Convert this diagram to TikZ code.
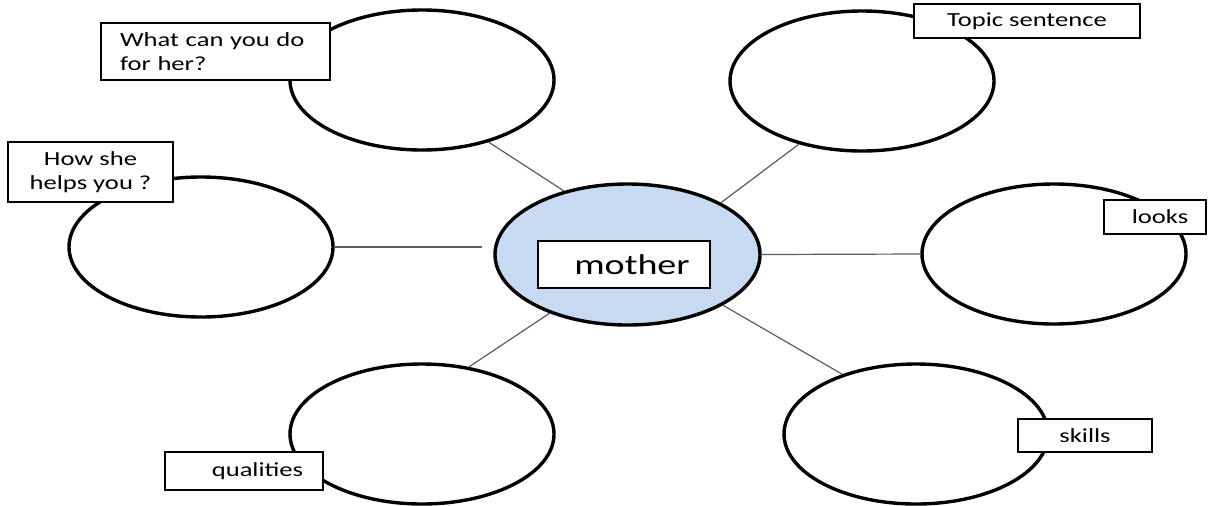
\documentclass[tikz,border=0pt]{standalone}
\usepackage{fontspec}
\setmainfont{Carlito}[FakeStretch=1.33]
\usetikzlibrary{shapes.geometric}
\definecolor{spokegray}{RGB}{84,94,104}
\definecolor{hubblue}{RGB}{200,218,241}
\tikzset{%
    bubble/.style = {ellipse, draw, line width=1.7pt, minimum width=132pt,
                     minimum height=70pt, inner sep=0pt},
    tag/.style    = {draw, line width=0.65pt, fill=white, inner sep=0pt,
                     font=\fontsize{10}{12}\selectfont},
    spoke/.style  = {draw=spokegray, line width=0.6pt}
}
\begin{document}
\begin{tikzpicture}[x=0.5pt,y=-0.5pt]
  \useasboundingbox (0,0) rectangle (1208,505);
  % hub
  \node[bubble, fill=hubblue, minimum width=132.5pt, minimum height=70.5pt]
       (mother) at (627.5,254.5) {};
  % outer bubbles
  \node[bubble] (todo)      at (422,80)  {};
  \node[bubble] (topic)     at (862,81)  {};
  \node[bubble] (helps)     at (201,247) {};
  \node[bubble] (looks)     at (1054,254) {};
  \node[bubble] (qualities) at (422,434) {};
  \node[bubble] (skills)    at (916,434) {};
  % spokes
  \draw[spoke] (todo.-43) -- (mother.135);
  \draw[spoke] (topic.-135) -- (mother.29);
  \draw[spoke, shorten >=5.5pt] (helps.east) -- (helps.east -| mother.west);
  \draw[spoke] (mother.east) -- (looks.west);
  \draw[spoke] (mother.217) -- (qualities.55);
  \draw[spoke] (mother.-28) -- (skills.141);
  % tags
  \node[tag, minimum width=86pt, minimum height=23.5pt, font=\fontsize{14.3}{16}\selectfont]
       (mothertag) at (624,264.5) {\hspace*{8pt}mother};
  \node[tag, minimum width=114.5pt, minimum height=28.5pt, text width=95.5pt, align=left]
       (todotag) at (215.5,51.5) {What can you do\\for her?};
  \node[tag, minimum width=82.5pt, minimum height=30pt, align=center]
       (helpstag) at (90.5,172) {How she\\helps you ?};
  \node[tag, minimum width=113pt, minimum height=17pt] (topictag) at (1027,21) {Topic sentence};
  \node[tag, minimum width=51pt, minimum height=17pt] (lookstag) at (1155,217) {\hspace*{5pt}looks};
  \node[tag, minimum width=79pt, minimum height=19pt] (qualtag) at (244,471) {\hspace*{13.5pt}qualities};
  \node[tag, minimum width=67pt, minimum height=16.5pt] (skillstag) at (1085,435.5) {skills};
\end{tikzpicture}
\end{document}
